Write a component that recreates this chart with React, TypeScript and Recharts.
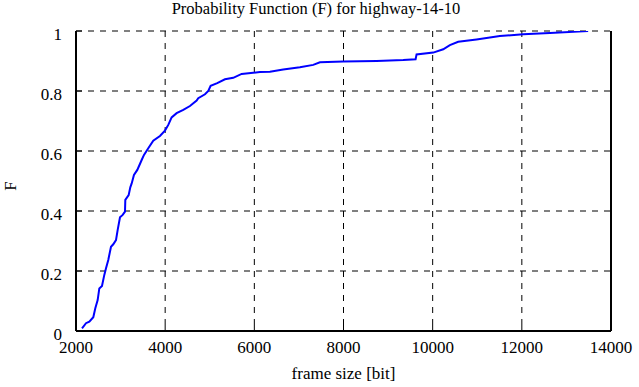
import React from 'react';
import { LineChart, Line, XAxis, YAxis, CartesianGrid } from 'recharts';

const frameSize = [
  2135, 2224, 2299, 2388, 2433, 2486, 2523, 2583, 2635, 2673, 2724, 2785, 2836, 2897,
  2935, 2987, 3047, 3099, 3106, 3181, 3218, 3249, 3300, 3375, 3473, 3525, 3621, 3733,
  3883, 3995, 4070, 4145, 4257, 4406, 4556, 4706, 4742, 4893, 4967, 5020, 5168, 5341,
  5527, 5715, 5975, 6126, 6350, 6648, 7022, 7321, 7471, 7994, 8742, 9339, 9617, 9639,
  10013, 10237, 10386, 10573, 10984, 11507, 12030, 12628, 13487,
];
const probF = [
  0.009, 0.026, 0.031, 0.046, 0.076, 0.103, 0.142, 0.15, 0.187, 0.209, 0.237, 0.281, 0.289, 0.303,
  0.337, 0.379, 0.387, 0.398, 0.437, 0.453, 0.479, 0.492, 0.52, 0.537, 0.57, 0.587, 0.609, 0.634,
  0.65, 0.668, 0.687, 0.712, 0.726, 0.737, 0.75, 0.768, 0.776, 0.789, 0.8, 0.817, 0.826, 0.839,
  0.844, 0.857, 0.861, 0.863, 0.864, 0.872, 0.879, 0.887, 0.896, 0.898, 0.9, 0.903, 0.906, 0.922,
  0.928, 0.939, 0.953, 0.964, 0.972, 0.983, 0.989, 0.993, 1.0,
];
const xTicks = [2000, 4000, 6000, 8000, 10000, 12000, 14000];
const yTicks = [0, 0.2, 0.4, 0.6, 0.8, 1];
const yTickLabels = ['0', '0.2', '0.4', '0.6', '0.8', '1'];

const title = 'Probability Function (F) for highway-14-10';
const xLabel = 'frame size [bit]';
const yLabel = 'F';

const data = frameSize.map((x, i) => ({ x, F: probF[i] }));

const FONT = "'Liberation Serif', 'Times New Roman', serif";
const FS = 17;
const textStyle = { fontFamily: FONT, fontSize: FS, fill: '#000' };

const XTick = (props: any) => {
  const { x, y, payload } = props;
  return (
    <text x={x} y={y} dy={9} textAnchor="middle" style={textStyle}>
      {String(payload.value)}
    </text>
  );
};

const YTick = (props: any) => {
  const { x, y, payload } = props;
  const idx = yTicks.indexOf(payload.value);
  return (
    <text x={x} y={y} dy={8.5} textAnchor="end" style={textStyle}>
      {idx >= 0 ? yTickLabels[idx] : String(payload.value)}
    </text>
  );
};

const XLabel = (props: any) => {
  const vb = props.viewBox || { x: 76, y: 331, width: 535, height: 56 };
  return (
    <text x={vb.x + vb.width / 2} y={vb.y + vb.height - 8} textAnchor="middle" style={textStyle}>
      {xLabel}
    </text>
  );
};

const YLabel = (props: any) => {
  const vb = props.viewBox || { x: 0, y: 31, width: 76, height: 300 };
  const cx = vb.x + 16;
  const cy = vb.y + vb.height / 2 + 5;
  return (
    <text x={cx} y={cy} transform={`rotate(-90, ${cx}, ${cy})`} textAnchor="middle" style={textStyle}>
      {yLabel}
    </text>
  );
};

export default function App() {
  return (
    <div style={{ position: 'absolute', left: 0, top: 0, width: 639, height: 387, background: '#fff' }}>
      <div
        style={{
          position: 'absolute',
          left: 0,
          top: 0,
          width: 632,
          textAlign: 'center',
          fontFamily: FONT,
          fontSize: 16.5,
          lineHeight: '17px',
          color: '#000',
          whiteSpace: 'nowrap',
        }}
      >
        {title}
      </div>
      <LineChart width={639} height={387} data={data} margin={{ top: 31, right: 0, bottom: 0, left: 0 }}>
        <CartesianGrid xAxisId="bottom" yAxisId="left" stroke="#000" strokeDasharray="6 6" strokeWidth={1} />
        <XAxis
          xAxisId="bottom"
          dataKey="x"
          type="number"
          domain={[2000, 14000]}
          ticks={xTicks}
          orientation="bottom"
          height={56}
          axisLine={{ stroke: '#000', strokeWidth: 2 }}
          tickLine={{ stroke: '#000', strokeWidth: 1 }}
          tickSize={-6}
          tickMargin={19}
          tick={<XTick />}
          label={<XLabel />}
          allowDataOverflow
        />
        <XAxis
          xAxisId="top"
          dataKey="x"
          type="number"
          domain={[2000, 14000]}
          ticks={xTicks}
          orientation="top"
          height={0}
          axisLine={{ stroke: '#000', strokeWidth: 2 }}
          tickLine={{ stroke: '#000', strokeWidth: 1 }}
          tickSize={-6}
          tick={false}
          allowDataOverflow
        />
        <YAxis
          yAxisId="left"
          type="number"
          domain={[0, 1]}
          ticks={yTicks}
          orientation="left"
          width={76}
          axisLine={{ stroke: '#000', strokeWidth: 2 }}
          tickLine={{ stroke: '#000', strokeWidth: 1 }}
          tickSize={-6}
          tickMargin={20}
          tick={<YTick />}
          label={<YLabel />}
          allowDataOverflow
        />
        <YAxis
          yAxisId="right"
          type="number"
          domain={[0, 1]}
          ticks={yTicks}
          orientation="right"
          width={28}
          axisLine={{ stroke: '#000', strokeWidth: 2 }}
          tickLine={{ stroke: '#000', strokeWidth: 1 }}
          tickSize={-6}
          tick={false}
          allowDataOverflow
        />
        <Line
          xAxisId="top"
          yAxisId="right"
          dataKey="F"
          stroke="none"
          dot={false}
          activeDot={false}
          isAnimationActive={false}
        />
        <Line
          xAxisId="bottom"
          yAxisId="left"
          type="linear"
          dataKey="F"
          stroke="#0000ff"
          strokeWidth={2}
          dot={false}
          activeDot={false}
          isAnimationActive={false}
        />
      </LineChart>
    </div>
  );
}
